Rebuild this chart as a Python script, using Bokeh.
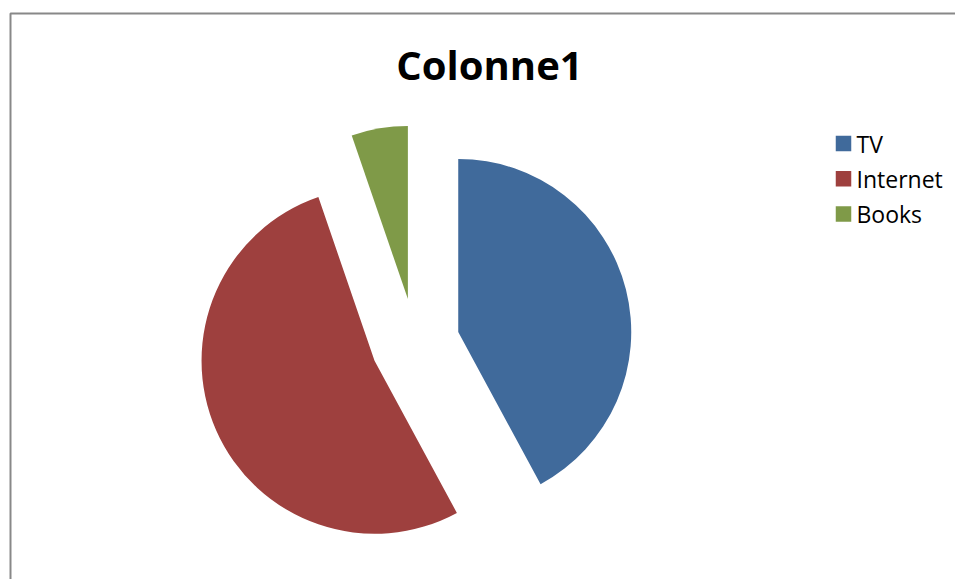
import math
from bokeh.plotting import figure
from bokeh.models import Range1d, ColumnDataSource
from bokeh.core.properties import value
from bokeh.embed import file_html
from bokeh.resources import INLINE

# ---- data ----
categories = ["TV", "Internet", "Books"]
values = [8, 10, 1]
colors = ["#406A9B", "#9E403E", "#7F9A48"]
chart_title = "Colonne1"

# ---- canvas (1 data unit = 1 pixel) ----
W, H = 955, 579
MARGIN = 0


def px(page_x):
    return page_x - MARGIN


def py(page_y):
    return H - (page_y - MARGIN)


p = figure(width=W, height=H, x_range=Range1d(0, W), y_range=Range1d(0, H),
           output_backend="svg", toolbar_location=None,
           x_axis_type=None, y_axis_type=None, min_border=0)
p.grid.visible = False
p.outline_line_color = None
p.background_fill_color = "white"
p.border_fill_color = "white"

# chart-area border (left and top visible)
p.line([px(10), px(10), W + 5], [-5, py(13), py(13)], line_color="#888888", line_width=2)

# ---- exploded pie ----
cx, cy = px(414.7), py(342.4)
R = 173
explode = 44.4
total = sum(values)
xs, ys, starts, ends = [], [], [], []
acc = 0.0
for v in values:
    frac = v / total
    a_start = 90 - acc * 360          # clockwise from 12 o'clock
    a_end = 90 - (acc + frac) * 360
    mid = math.radians((a_start + a_end) / 2)
    xs.append(cx + explode * math.cos(mid))
    ys.append(cy + explode * math.sin(mid))
    starts.append(a_end)
    ends.append(a_start)
    acc += frac

src = ColumnDataSource(dict(x=xs, y=ys, start=starts, end=ends, color=colors, cat=categories))
p.wedge(x="x", y="y", radius=R, start_angle="start", end_angle="end",
        start_angle_units="deg", end_angle_units="deg",
        fill_color="color", line_color=None, source=src)

# ---- title ----
p.text(x=[px(489)], y=[py(64)], text=[chart_title], text_align="center",
       text_baseline="middle", text_font=value("Open Sans"), text_font_style="bold",
       text_font_size="40px", text_color="black")

# ---- legend ----
step = 35.3
leg_sq_y = [py(143 + i * step) for i in range(len(categories))]
p.rect(x=[px(843)] * len(categories), y=leg_sq_y, width=15.5, height=15.5,
       fill_color=colors, line_color=None)
p.text(x=[px(856)] * len(categories), y=leg_sq_y, text=categories, text_align="left",
       text_baseline="middle", text_font=value("Open Sans"),
       text_font_size="23px", text_color="black")

open("out.html", "w").write(file_html(p, INLINE))
